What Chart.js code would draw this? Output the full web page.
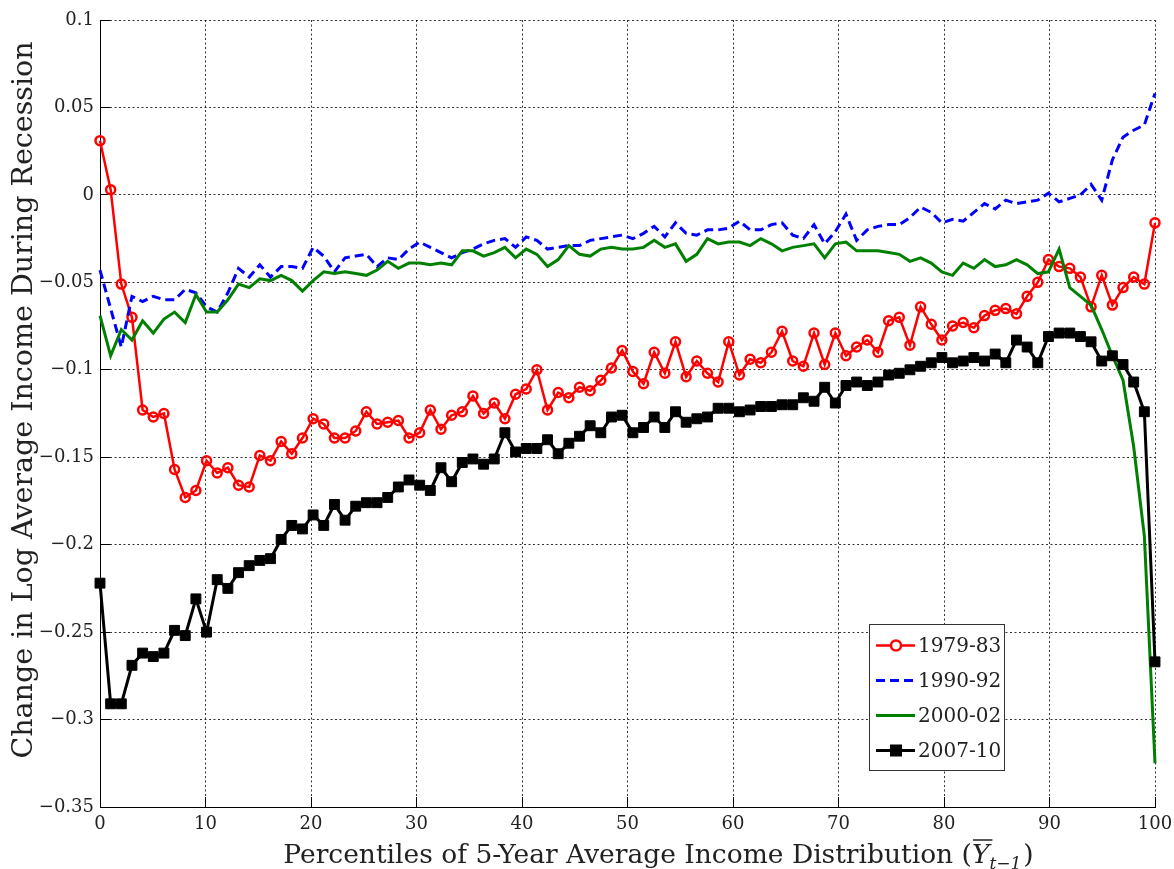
<!DOCTYPE html>
<html>
<head>
<meta charset="utf-8">
<title>Change in Log Average Income During Recession</title>
<script src="https://cdn.jsdelivr.net/npm/chart.js"></script>
<style>
  html, body { margin: 0; padding: 0; background: #fff; }
  #wrap { width: 1174px; height: 869px; }
</style>
</head>
<body>
<div id="wrap"><canvas id="incomeChart" width="1174" height="869"></canvas></div>
<script>
// percentile grid (100 bins spread over 0..100)
const percentiles = [
    0, 1.01, 2.02, 3.03, 4.04, 5.05, 6.06, 7.07, 8.08, 9.09,
    10.1, 11.11, 12.12, 13.13, 14.14, 15.15, 16.16, 17.17, 18.18, 19.19,
    20.2, 21.21, 22.22, 23.23, 24.24, 25.25, 26.26, 27.27, 28.28, 29.29,
    30.3, 31.31, 32.32, 33.33, 34.34, 35.35, 36.36, 37.37, 38.38, 39.39,
    40.4, 41.41, 42.42, 43.43, 44.44, 45.45, 46.46, 47.47, 48.48, 49.49,
    50.51, 51.52, 52.53, 53.54, 54.55, 55.56, 56.57, 57.58, 58.59, 59.6,
    60.61, 61.62, 62.63, 63.64, 64.65, 65.66, 66.67, 67.68, 68.69, 69.7,
    70.71, 71.72, 72.73, 73.74, 74.75, 75.76, 76.77, 77.78, 78.79, 79.8,
    80.81, 81.82, 82.83, 83.84, 84.85, 85.86, 86.87, 87.88, 88.89, 89.9,
    90.91, 91.92, 92.93, 93.94, 94.95, 95.96, 96.97, 97.98, 98.99, 100
];

const rec7983 = [
    0.031, 0.003, -0.051, -0.070, -0.123, -0.127, -0.125, -0.157, -0.173, -0.169,
    -0.152, -0.159, -0.156, -0.166, -0.167, -0.149, -0.152, -0.141, -0.148, -0.139,
    -0.128, -0.131, -0.139, -0.139, -0.135, -0.124, -0.131, -0.130, -0.129, -0.139,
    -0.136, -0.123, -0.134, -0.126, -0.124, -0.115, -0.125, -0.119, -0.128, -0.114,
    -0.111, -0.100, -0.123, -0.113, -0.116, -0.110, -0.112, -0.106, -0.099, -0.089,
    -0.101, -0.108, -0.090, -0.102, -0.084, -0.104, -0.095, -0.102, -0.107, -0.084,
    -0.103, -0.094, -0.096, -0.090, -0.078, -0.095, -0.098, -0.079, -0.097, -0.079,
    -0.092, -0.087, -0.083, -0.090, -0.072, -0.070, -0.086, -0.064, -0.074, -0.083,
    -0.075, -0.073, -0.076, -0.069, -0.066, -0.065, -0.068, -0.058, -0.050, -0.037,
    -0.041, -0.042, -0.047, -0.064, -0.046, -0.063, -0.053, -0.047, -0.051, -0.016
];

const rec9092 = [
    -0.043, -0.065, -0.087, -0.058, -0.061, -0.058, -0.060, -0.060, -0.054, -0.056,
    -0.064, -0.067, -0.056, -0.042, -0.047, -0.040, -0.047, -0.041, -0.041, -0.042,
    -0.030, -0.035, -0.044, -0.036, -0.035, -0.034, -0.041, -0.036, -0.037, -0.031,
    -0.027, -0.030, -0.033, -0.036, -0.033, -0.031, -0.028, -0.026, -0.025, -0.030,
    -0.024, -0.026, -0.031, -0.030, -0.029, -0.029, -0.026, -0.025, -0.024, -0.023,
    -0.025, -0.022, -0.018, -0.024, -0.016, -0.022, -0.023, -0.020, -0.020, -0.019,
    -0.015, -0.020, -0.020, -0.017, -0.016, -0.023, -0.025, -0.017, -0.028, -0.021,
    -0.011, -0.026, -0.020, -0.018, -0.017, -0.017, -0.013, -0.007, -0.010, -0.016,
    -0.014, -0.015, -0.010, -0.005, -0.008, -0.003, -0.005, -0.004, -0.003, 0.001,
    -0.004, -0.002, 0.000, 0.006, -0.003, 0.020, 0.033, 0.037, 0.040, 0.058
];

const rec0002 = [
    -0.069, -0.092, -0.077, -0.083, -0.072, -0.079, -0.071, -0.067, -0.073, -0.057,
    -0.067, -0.067, -0.060, -0.051, -0.053, -0.048, -0.049, -0.046, -0.049, -0.055,
    -0.049, -0.044, -0.045, -0.044, -0.045, -0.046, -0.043, -0.038, -0.042, -0.039,
    -0.039, -0.040, -0.039, -0.040, -0.032, -0.032, -0.035, -0.033, -0.030, -0.036,
    -0.031, -0.034, -0.041, -0.037, -0.029, -0.034, -0.035, -0.031, -0.030, -0.031,
    -0.031, -0.030, -0.026, -0.030, -0.028, -0.038, -0.034, -0.025, -0.028, -0.027,
    -0.027, -0.029, -0.025, -0.028, -0.032, -0.030, -0.029, -0.028, -0.036, -0.028,
    -0.027, -0.032, -0.032, -0.032, -0.033, -0.034, -0.038, -0.036, -0.039, -0.044,
    -0.046, -0.039, -0.042, -0.037, -0.041, -0.040, -0.037, -0.040, -0.045, -0.044,
    -0.031, -0.053, -0.058, -0.063, -0.077, -0.092, -0.106, -0.144, -0.195, -0.325
];

const rec0710 = [
    -0.222, -0.291, -0.291, -0.269, -0.262, -0.264, -0.262, -0.249, -0.252, -0.231,
    -0.250, -0.220, -0.225, -0.216, -0.212, -0.209, -0.208, -0.197, -0.189, -0.191,
    -0.183, -0.189, -0.177, -0.186, -0.178, -0.176, -0.176, -0.173, -0.167, -0.163,
    -0.166, -0.169, -0.156, -0.164, -0.153, -0.151, -0.154, -0.151, -0.136, -0.147,
    -0.145, -0.145, -0.140, -0.148, -0.142, -0.138, -0.132, -0.136, -0.127, -0.126,
    -0.136, -0.133, -0.127, -0.133, -0.124, -0.130, -0.128, -0.127, -0.122, -0.122,
    -0.124, -0.123, -0.121, -0.121, -0.120, -0.120, -0.116, -0.118, -0.110, -0.119,
    -0.109, -0.107, -0.109, -0.107, -0.103, -0.102, -0.100, -0.098, -0.096, -0.093,
    -0.096, -0.095, -0.093, -0.095, -0.091, -0.096, -0.083, -0.087, -0.096, -0.081,
    -0.079, -0.079, -0.081, -0.084, -0.095, -0.092, -0.097, -0.107, -0.124, -0.267
];

const seriesNames = ["1979-83", "1990-92", "2000-02", "2007-10"];
const xTicks = [0, 10, 20, 30, 40, 50, 60, 70, 80, 90, 100];
const yTicks = [-0.35, -0.3, -0.25, -0.2, -0.15, -0.1, -0.05, 0, 0.05, 0.1];

const xTitle = "Percentiles of 5-Year Average Income Distribution (";
const yTitle = "Change in Log Average Income During Recession";

const SERIF = '"DejaVu Serif", "Liberation Serif", serif';
const TEXT_COLOR = "#222";

function fmtTick(v) {
    const s = (Math.round(v * 100) / 100).toString();
    return s.replace("-", "\u2212");
}

// axis titles (x title has Y-bar with subscript t-1)
const axisTitles = {
    id: "axisTitles",
    afterDraw(chart) {
        const ctx = chart.ctx;
        const area = chart.chartArea;
        ctx.save();
        ctx.fillStyle = TEXT_COLOR;
        ctx.strokeStyle = TEXT_COLOR;

        ctx.font = "26.5px " + SERIF;
        const w1 = ctx.measureText(xTitle).width;
        ctx.font = "italic 26.5px " + SERIF;
        const wY = ctx.measureText("Y").width;
        ctx.font = "italic 17px " + SERIF;
        const wSub = ctx.measureText("t\u22121").width;
        ctx.font = "26.5px " + SERIF;
        const wEnd = ctx.measureText(")").width;
        const total = w1 + wY + wSub + 2 + wEnd;
        let x = (area.left + area.right) / 2 + 31 - total / 2;
        const base = 863;
        ctx.textAlign = "left";
        ctx.textBaseline = "alphabetic";
        ctx.fillText(xTitle, x, base);
        x += w1;
        ctx.font = "italic 26.5px " + SERIF;
        ctx.fillText("Y", x, base);
        ctx.lineWidth = 1.5;
        ctx.beginPath();
        ctx.moveTo(x + 1, base - 23);
        ctx.lineTo(x + wY + 3, base - 23);
        ctx.stroke();
        x += wY;
        ctx.font = "italic 17px " + SERIF;
        ctx.fillText("t\u22121", x, base + 6);
        x += wSub + 2;
        ctx.font = "26.5px " + SERIF;
        ctx.fillText(")", x, base);

        ctx.font = "28.5px " + SERIF;
        ctx.translate(25, 400);
        ctx.rotate(-Math.PI / 2);
        ctx.textAlign = "center";
        ctx.textBaseline = "middle";
        ctx.fillText(yTitle, 0, 0);
        ctx.restore();
    }
};

const legendBox = {
    id: "legendBox",
    afterDraw(chart) {
        const ctx = chart.ctx;
        const bx = 869.5, by = 624.5, bw = 135, bh = 146;
        ctx.save();
        ctx.fillStyle = "#fff";
        ctx.fillRect(bx, by, bw, bh);
        ctx.strokeStyle = "#333";
        ctx.lineWidth = 1;
        ctx.strokeRect(bx, by, bw, bh);

        chart.data.datasets.forEach((ds, i) => {
            const y = by + 21 + i * 35;
            ctx.strokeStyle = ds.borderColor;
            ctx.lineWidth = ds.borderWidth;
            ctx.setLineDash(ds.borderDash || []);
            ctx.beginPath();
            ctx.moveTo(876, y);
            ctx.lineTo(915, y);
            ctx.stroke();
            ctx.setLineDash([]);
            if (ds.pointStyle === "circle") {
                ctx.lineWidth = ds.pointBorderWidth;
                ctx.fillStyle = "#fff";
                ctx.beginPath();
                ctx.arc(896, y, ds.pointRadius + 0.5, 0, Math.PI * 2);
                ctx.fill();
                ctx.stroke();
            } else if (ds.pointStyle === "rect") {
                ctx.fillStyle = ds.pointBackgroundColor;
                ctx.fillRect(890, y - 6, 12, 12);
            }
            ctx.fillStyle = TEXT_COLOR;
            ctx.font = "20px " + SERIF;
            ctx.textAlign = "left";
            ctx.textBaseline = "middle";
            ctx.fillText(ds.label, 918, y + 1);
        });
        ctx.restore();
    }
};

const gridStyle = {
    color: "rgba(0, 0, 0, 0.8)",
    lineWidth: 1,
    tickLength: -10,
    tickColor: "#000",
    tickWidth: 1,
    tickBorderDash: []
};

// border.dash dashes the grid lines in Chart.js v4, the axis line stays solid
const axisBorder = { display: true, color: "#000", width: 1, dash: [2, 2.5] };

const ctx = document.getElementById("incomeChart").getContext("2d");
new Chart(ctx, {
    type: "line",
    data: {
        labels: percentiles,
        datasets: [
            {
                label: seriesNames[0],
                data: rec7983,
                borderColor: "#ff0000",
                borderWidth: 2.5,
                pointStyle: "circle",
                pointRadius: 4.5,
                pointBorderWidth: 2.5,
                pointBorderColor: "#ff0000",
                pointBackgroundColor: "rgba(255, 255, 255, 0)",
                tension: 0,
                clip: false,
                order: 4
            },
            {
                label: seriesNames[1],
                data: rec9092,
                borderColor: "#0000ff",
                borderWidth: 3,
                borderDash: [9, 5],
                pointRadius: 0,
                tension: 0,
                clip: false,
                order: 3
            },
            {
                label: seriesNames[2],
                data: rec0002,
                borderColor: "#008000",
                borderWidth: 3,
                pointRadius: 0,
                tension: 0,
                clip: false,
                order: 2
            },
            {
                label: seriesNames[3],
                data: rec0710,
                borderColor: "#000000",
                borderWidth: 3,
                pointStyle: "rect",
                pointRadius: 7,
                pointBorderWidth: 1,
                pointBorderColor: "#000000",
                pointBackgroundColor: "#000000",
                tension: 0,
                clip: false,
                order: 1
            }
        ]
    },
    options: {
        responsive: false,
        animation: false,
        events: [],
        layout: { padding: { left: 0, top: 20, right: 19, bottom: 0 } },
        plugins: {
            legend: { display: false },
            tooltip: { enabled: false },
            title: { display: false }
        },
        scales: {
            x: {
                type: "linear",
                min: 0,
                max: 100,
                afterFit: (scale) => {
                    scale.height = 62;
                    scale.paddingLeft = 0;
                    scale.paddingRight = 0;
                },
                afterBuildTicks: (scale) => { scale.ticks = xTicks.map(v => ({ value: v })); },
                grid: gridStyle,
                border: axisBorder,
                ticks: {
                    padding: 17,
                    color: TEXT_COLOR,
                    font: { family: SERIF, size: 18 },
                    maxRotation: 0,
                    callback: (v) => v.toString()
                }
            },
            y: {
                type: "linear",
                min: -0.35,
                max: 0.1,
                afterFit: (scale) => {
                    scale.width = 100;
                    scale.paddingTop = 0;
                    scale.paddingBottom = 0;
                },
                afterBuildTicks: (scale) => { scale.ticks = yTicks.map(v => ({ value: v })); },
                grid: gridStyle,
                border: axisBorder,
                ticks: {
                    padding: 16,
                    color: TEXT_COLOR,
                    font: { family: SERIF, size: 18 },
                    callback: (v) => fmtTick(v)
                }
            }
        }
    },
    plugins: [axisTitles, legendBox]
});
</script>
</body>
</html>
